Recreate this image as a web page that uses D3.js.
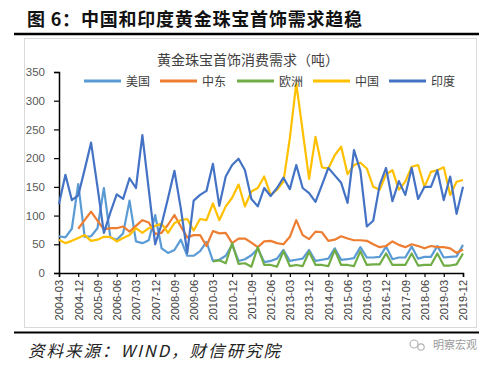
<!DOCTYPE html>
<html><head><meta charset="utf-8">
<script src="https://cdn.jsdelivr.net/npm/d3@7"></script>
<style>
html,body{margin:0;padding:0;background:#fff;}
svg{display:block;}
</style></head>
<body>
<svg id="c" width="500" height="366"></svg>
<script>
const categories = ["2004-03","2004-06","2004-09","2004-12","2005-03","2005-06","2005-09","2005-12",
"2006-03","2006-06","2006-09","2006-12","2007-03","2007-06","2007-09","2007-12",
"2008-03","2008-06","2008-09","2008-12","2009-03","2009-06","2009-09","2009-12",
"2010-03","2010-06","2010-09","2010-12","2011-03","2011-06","2011-09","2011-12",
"2012-03","2012-06","2012-09","2012-12","2013-03","2013-06","2013-09","2013-12",
"2014-03","2014-06","2014-09","2014-12","2015-03","2015-06","2015-09","2015-12",
"2016-03","2016-06","2016-09","2016-12","2017-03","2017-06","2017-09","2017-12",
"2018-03","2018-06","2018-09","2018-12","2019-03","2019-06","2019-09","2019-12"];

const tickLabels = ["2004-03","2004-12","2005-09","2006-06","2007-03","2007-12","2008-09","2009-06",
"2010-03","2010-12","2011-09","2012-06","2013-03","2013-12","2014-09","2015-06","2016-03","2016-12",
"2017-09","2018-06","2019-03","2019-12"];
const yTicks = [0,50,100,150,200,250,300,350];

const usa = [64,62,77,155,63,64,78,148, 62,58,69,126,55,52,57,101, 43,35,40,58,30,30,38,54,
 21,23,30,49,21,24,31,42, 19,21,25,40,21,23,25,40, 21,23,25,43,23,24,26,45,
 27,27,28,46,24,27,27,46, 25,28,28,47,27,28,29,49];
const middleEast = [null,null,null,77,92,107,91,76, 78,78,81,72,82,92,88,68, 70,84,101,81,62,66,66,47,
 73,69,70,52,60,60,53,45, 55,56,52,50,63,92,66,59, 72,71,56,58,64,60,57,57,
 56,50,45,47,55,49,45,50, 47,43,47,45,45,43,35,41];
const europe = [null,null,null,null,null,null,null,null, null,null,null,null,null,null,null,null,
 null,null,null,null,null,null,null,null,
 20,22,17,52,16,17,11,45, 14,14,11,38,12,14,12,37, 14,14,12,40,14,14,12,38,
 14,15,15,34,14,14,14,34, 13,14,14,34,13,13,15,34];
const china = [58,52,56,61,66,56,58,63, 63,55,61,66,78,70,78,82, 86,70,87,92,94,74,94,92,
 121,92,116,131,154,116,142,148, 168,136,145,159,235,330,247,164, 237,184,182,205,220,172,188,192,
 182,150,145,172,179,145,159,185, 188,150,176,179,184,136,159,162];
const india = [120,171,127,135,180,227,150,70, 105,137,129,165,148,240,145,50, 85,130,178,112,35,126,136,143,
 190,117,168,188,199,179,129,116, 148,134,148,166,146,188,148,139, 124,153,183,170,157,122,214,178,
 81,91,153,183,125,160,136,183, 129,150,150,179,127,168,103,150];

const seriesNames = ["美国","中东","欧洲","中国","印度"];
const seriesColors = ["#5B9BD5","#ED7D31","#70AD47","#FFC000","#4472C4"];
const seriesData = [usa, middleEast, europe, china, india];

const svg = d3.select("#c");
const FONT = "'Liberation Sans','Noto Sans CJK SC',sans-serif";

// Figure title
svg.append("text").attr("x",27).attr("y",26)
  .attr("font-family","'Noto Sans CJK SC',sans-serif").attr("font-weight","bold")
  .attr("font-size",18).attr("letter-spacing",0.8).attr("fill","#111")
  .text("图 6：中国和印度黄金珠宝首饰需求趋稳");
svg.append("line").attr("x1",14).attr("x2",479).attr("y1",34).attr("y2",34)
  .attr("stroke","#000").attr("stroke-width",2.5);

// chart box
svg.append("rect").attr("x",24.5).attr("y",38.5).attr("width",452).attr("height",289)
  .attr("fill","#fff").attr("stroke","#d9d9d9").attr("stroke-width",1);

// chart title
svg.append("text").attr("x",248).attr("y",65).attr("text-anchor","middle")
  .attr("font-family","'Noto Sans CJK SC',sans-serif").attr("font-size",14).attr("fill","#404040")
  .text("黄金珠宝首饰消费需求（吨）");

const x = d3.scalePoint().domain(categories).range([59, 463]);
const y = d3.scaleLinear().domain([0,350]).range([273, 72]);

// y axis
const ya = svg.append("g").attr("transform","translate(59,0)")
  .call(d3.axisLeft(y).tickValues(yTicks).tickSize(5).tickPadding(9));
ya.select(".domain").attr("stroke","#000").attr("stroke-width",1.5);
ya.selectAll(".tick line").attr("stroke","#000").attr("stroke-width",1.2);
ya.selectAll("text").attr("font-family",FONT).attr("font-size",11.5).attr("fill","#595959");

// x axis
const xa = svg.append("g").attr("transform","translate(0,273)")
  .call(d3.axisBottom(x).tickValues(tickLabels).tickSize(4));
xa.select(".domain").attr("stroke","#000").attr("stroke-width",1.5);
xa.selectAll(".tick line").attr("stroke","#000").attr("stroke-width",1.2);
xa.selectAll("text").attr("font-family",FONT).attr("font-size",11).attr("fill","#404040")
  .attr("transform","rotate(-90)").attr("text-anchor","end")
  .attr("x",-7).attr("y",0).attr("dy","0.35em");

// lines
const line = d3.line().defined(d => d.v != null).x(d => x(d.c)).y(d => y(d.v));
seriesData.forEach((arr,k) => {
  const pts = categories.map((c,i) => ({c, v: arr[i]}));
  svg.append("path").datum(pts).attr("d", line).attr("fill","none")
    .attr("stroke", seriesColors[k]).attr("stroke-width",2.2).attr("stroke-linejoin","round");
});

// legend
const legX = [84,160,237,313,389];
seriesNames.forEach((n,k) => {
  svg.append("line").attr("x1",legX[k]).attr("x2",legX[k]+37).attr("y1",81).attr("y2",81)
    .attr("stroke",seriesColors[k]).attr("stroke-width",3);
  svg.append("text").attr("x",legX[k]+42).attr("y",85.5)
    .attr("font-family","'Noto Sans CJK SC',sans-serif").attr("font-size",12).attr("fill","#404040").text(n);
});

// bottom rule & source
svg.append("line").attr("x1",14).attr("x2",479).attr("y1",332.5).attr("y2",332.5)
  .attr("stroke","#000").attr("stroke-width",2);
svg.append("text").attr("x",28).attr("y",357)
  .attr("font-family","'Noto Sans CJK SC',serif").attr("font-style","italic")
  .attr("font-size",16.5).attr("letter-spacing",2).attr("fill","#222")
  .text("资料来源：WIND，财信研究院");

// watermark
const wm = svg.append("g").attr("fill","none").attr("stroke","#b5b5b5").attr("stroke-width",1.2);
wm.append("circle").attr("cx",414).attr("cy",344).attr("r",4);
wm.append("circle").attr("cx",421).attr("cy",347).attr("r",3.2);
svg.append("text").attr("x",433).attr("y",348.5)
  .attr("font-family","'Noto Sans CJK SC',sans-serif").attr("font-size",11).attr("fill","#9a9a9a")
  .text("明察宏观");
</script>
</body></html>
